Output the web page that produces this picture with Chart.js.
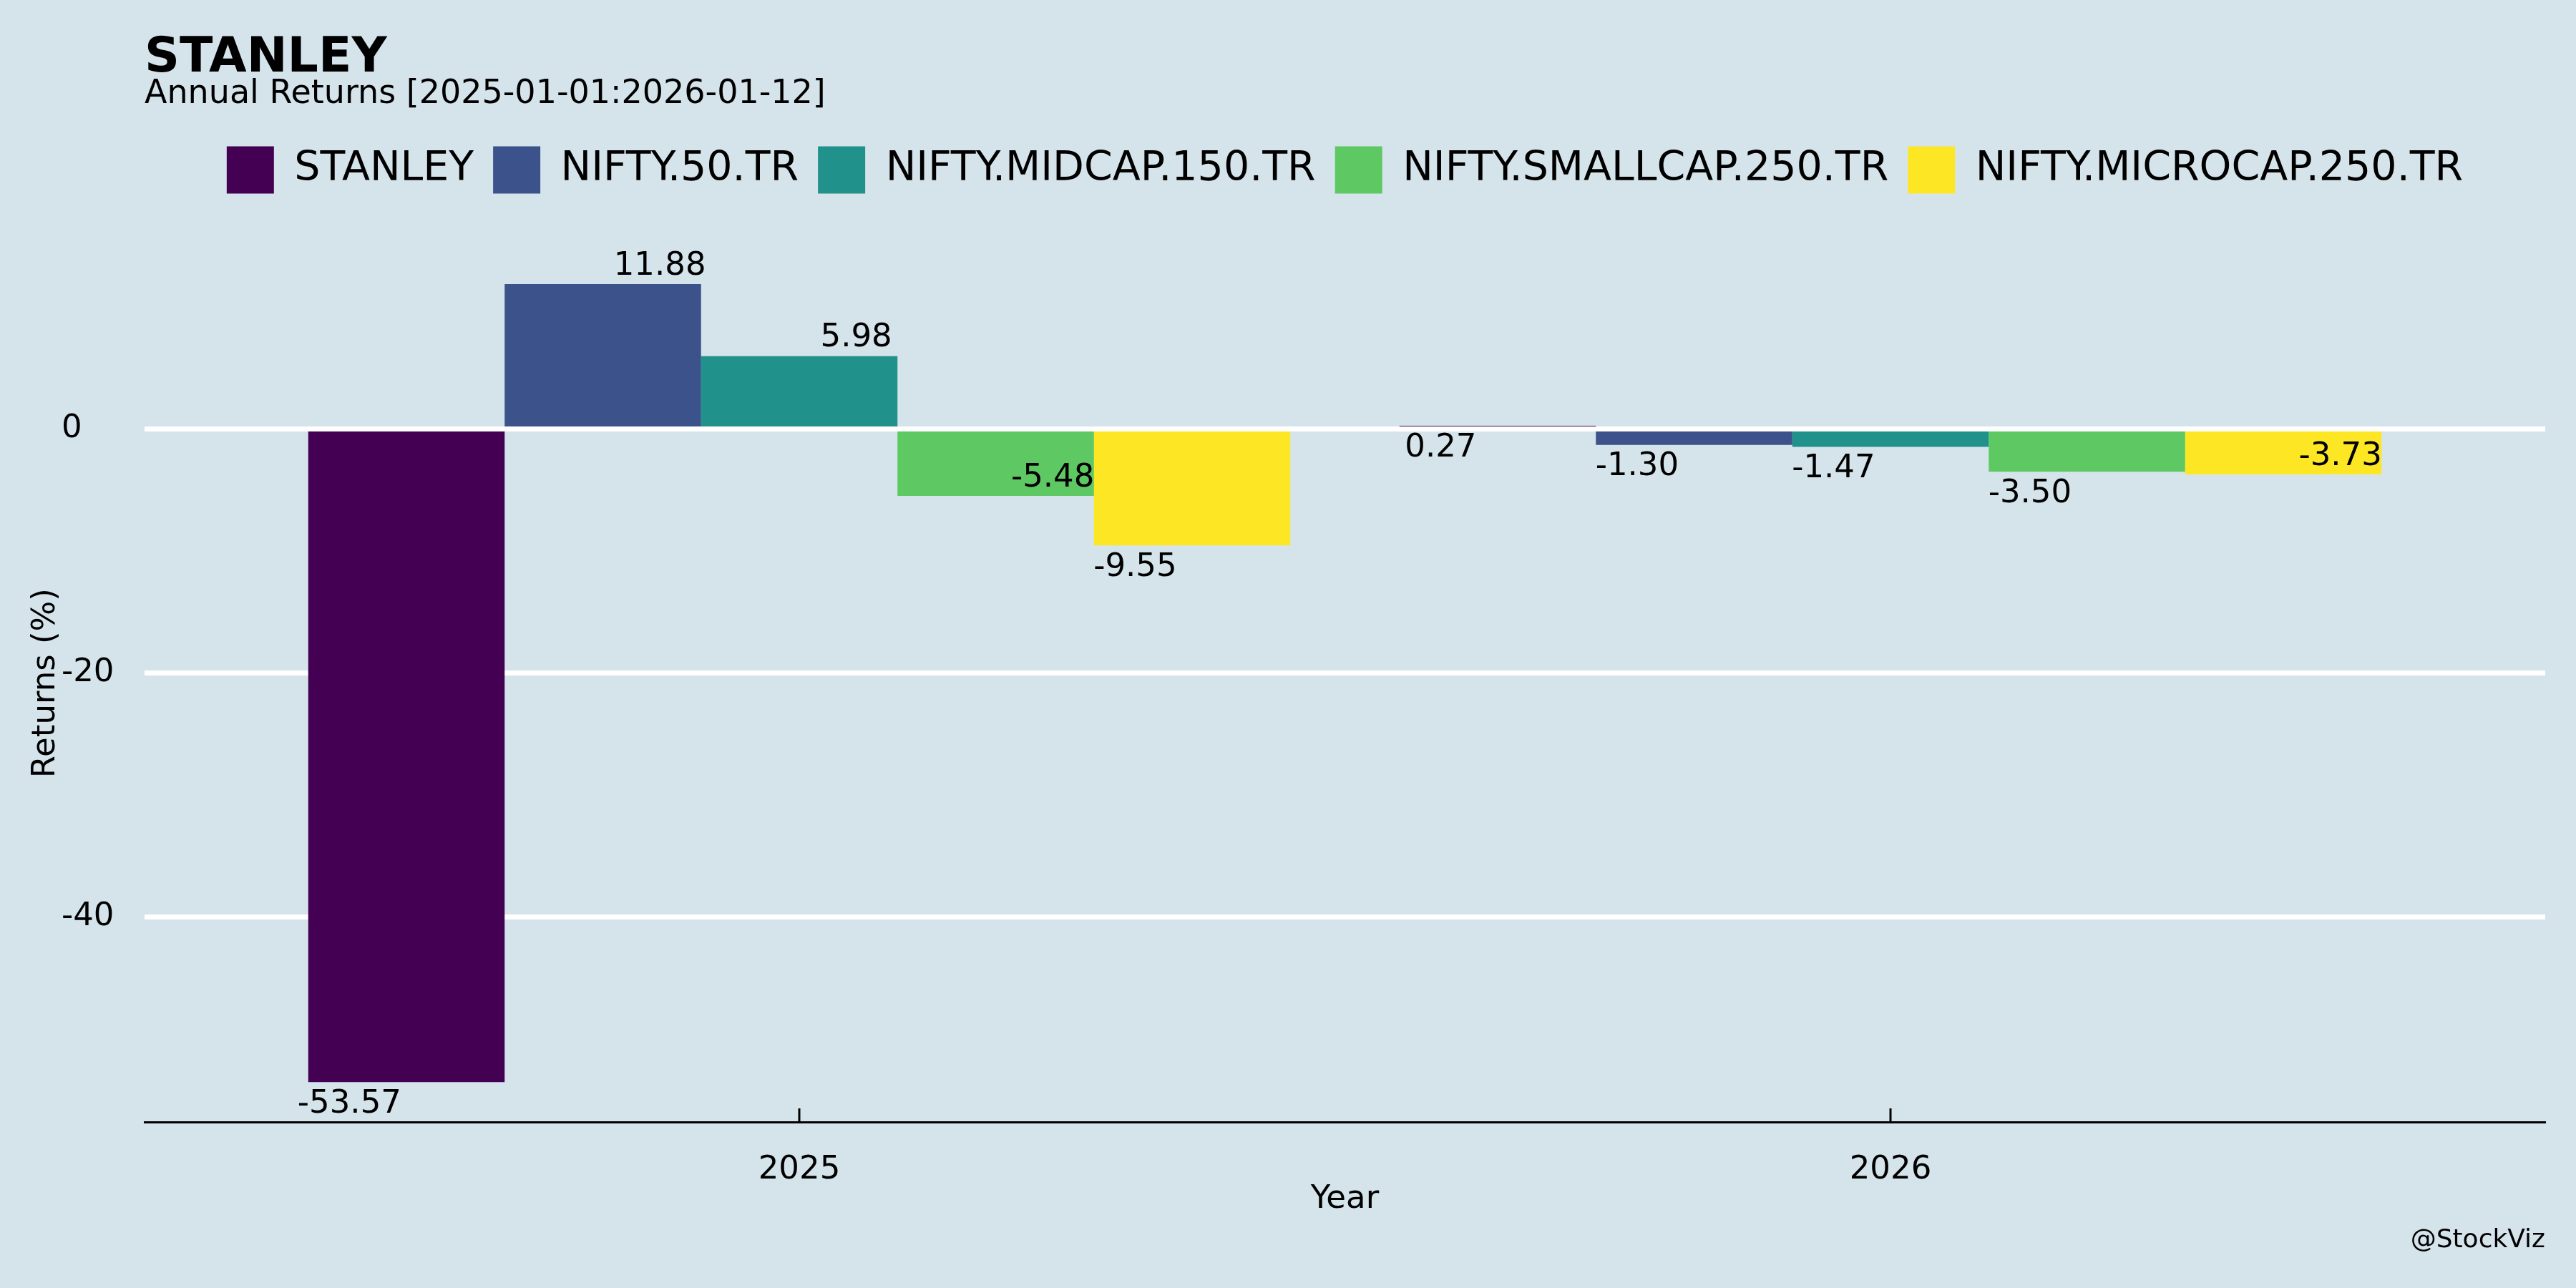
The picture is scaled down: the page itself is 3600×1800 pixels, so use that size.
<!DOCTYPE html>
<html>
<head>
<meta charset="utf-8">
<script src="https://cdn.jsdelivr.net/npm/chart.js@4.4.1/dist/chart.umd.min.js"></script>
<style>
  html, body { margin: 0; padding: 0; background: #d5e4eb; }
  canvas { display: block; }
</style>
</head>
<body>
<canvas id="returnsChart" width="3600" height="1800" style="width:3600px;height:1800px"></canvas>
<script>
var years = ['2025', '2026'];
var seriesNames = ['STANLEY', 'NIFTY.50.TR', 'NIFTY.MIDCAP.150.TR', 'NIFTY.SMALLCAP.250.TR', 'NIFTY.MICROCAP.250.TR'];
var stanley = [-53.57, 0.27];
var nifty50 = [11.88, -1.30];
var midcap150 = [5.98, -1.47];
var smallcap250 = [-5.48, -3.50];
var microcap250 = [-9.55, -3.73];
var yTicks = [0, -20, -40];
var seriesColors = ['#440154', '#3b528b', '#21918c', '#5ec962', '#fde725'];

// where each value label sits next to its bar: [left(-1)/right(1), above(-1)/below(1)]
var labelSides = [
    [[-1, 1], [-1, 1]],
    [[1, -1], [-1, 1]],
    [[1, -1], [-1, 1]],
    [[1, -1], [-1, 1]],
    [[-1, 1], [1, -1]]
];

Chart.defaults.font.family = '"DejaVu Sans"';
Chart.defaults.color = '#000';

var background = {
    id: 'background',
    beforeDraw: function(chart) {
        var ctx = chart.ctx;
        ctx.save();
        ctx.fillStyle = '#d5e4eb';
        ctx.fillRect(0, 0, chart.width, chart.height);
        ctx.restore();
    }
};

// leave a gap between the legend and the plot
var legendGap = {
    id: 'legendGap',
    beforeLayout: function(chart) {
        var legend = chart.legend;
        if (legend && !legend._gapPatched) {
            var fit = legend.fit;
            legend.fit = function() {
                fit.call(this);
                this.height += 61;
            };
            legend._gapPatched = true;
        }
    }
};

var valueLabels = {
    id: 'valueLabels',
    afterDatasetsDraw: function(chart) {
        var ctx = chart.ctx;
        ctx.save();
        ctx.font = '45px "DejaVu Sans"';
        ctx.fillStyle = '#000';
        ctx.textAlign = 'center';
        ctx.textBaseline = 'middle';
        chart.data.datasets.forEach(function(ds, i) {
            chart.getDatasetMeta(i).data.forEach(function(bar, j) {
                var side = labelSides[i][j];
                var x = bar.x + side[0] * bar.width * 0.29;
                var y = bar.y + (side[1] < 0 ? -25 : 31);
                ctx.fillText(ds.data[j].y.toFixed(2), x, y);
            });
        });
        ctx.restore();
    }
};

var xTickMarks = {
    id: 'xTickMarks',
    afterDraw: function(chart) {
        var xs = chart.scales.x;
        var ctx = chart.ctx;
        var bottom = chart.chartArea.bottom;
        ctx.save();
        ctx.strokeStyle = '#000';
        ctx.lineWidth = 3;
        xs.ticks.forEach(function(t) {
            var px = xs.getPixelForValue(t.value);
            ctx.beginPath();
            ctx.moveTo(px, bottom - 19);
            ctx.lineTo(px, bottom);
            ctx.stroke();
        });
        ctx.font = '36px "DejaVu Sans"';
        ctx.fillStyle = '#000';
        ctx.textAlign = 'right';
        ctx.textBaseline = 'alphabetic';
        ctx.fillText('@StockViz', chart.chartArea.right, chart.height - 57);
        ctx.restore();
    }
};

var allSeries = [stanley, nifty50, midcap150, smallcap250, microcap250];

var ctx = document.getElementById('returnsChart').getContext('2d');
var returnsChart = new Chart(ctx, {
    type: 'bar',
    data: {
        datasets: allSeries.map(function(values, i) {
            return {
                label: seriesNames[i],
                data: values.map(function(v, j) { return { x: j, y: v }; }),
                backgroundColor: seriesColors[i],
                borderWidth: 0
            };
        })
    },
    options: {
        responsive: false,
        devicePixelRatio: 1,
        animation: false,
        layout: { padding: { left: 86, right: 43, top: 0, bottom: 0 } },
        datasets: {
            bar: { categoryPercentage: 0.9, barPercentage: 1.0 }
        },
        scales: {
            x: {
                type: 'linear',
                offset: false,
                min: -0.6,
                max: 1.6,
                afterBuildTicks: function(scale) {
                    scale.ticks = years.map(function(y, i) { return { value: i }; });
                },
                afterFit: function(scale) { scale.height = 232; },
                grid: { display: false, drawTicks: false },
                border: { display: true, color: '#000', width: 3 },
                ticks: {
                    padding: 40,
                    font: { size: 45 },
                    color: '#000',
                    callback: function(value) { return years[value]; }
                },
                title: {
                    display: true,
                    text: 'Year',
                    font: { size: 45 },
                    color: '#000',
                    padding: { top: 0, bottom: 97 }
                }
            },
            y: {
                min: -56.84,
                max: 15.15,
                afterBuildTicks: function(scale) {
                    scale.ticks = yTicks.map(function(v) { return { value: v }; });
                },
                afterFit: function(scale) { scale.width = 116; },
                grid: { color: '#ffffff', lineWidth: 7, drawTicks: false },
                border: { display: false },
                ticks: {
                    crossAlign: 'far',
                    padding: 0,
                    font: { size: 45 },
                    color: '#000'
                },
                title: {
                    display: true,
                    text: 'Returns (%)',
                    font: { size: 45 },
                    color: '#000',
                    padding: { top: -49, bottom: 0 }
                }
            }
        },
        plugins: {
            title: {
                display: true,
                text: 'STANLEY',
                align: 'start',
                fullSize: false,
                color: '#000',
                font: { size: 68, weight: 'bold', lineHeight: 0.8 },
                padding: { top: 55, bottom: 0 }
            },
            subtitle: {
                display: true,
                text: 'Annual Returns [2025-01-01:2026-01-12]',
                align: 'start',
                fullSize: false,
                color: '#000',
                font: { size: 46, lineHeight: 1 },
                padding: { top: 0, bottom: 22 }
            },
            legend: {
                position: 'top',
                fullSize: false,
                labels: {
                    boxWidth: 66,
                    boxHeight: 66,
                    padding: 27,
                    font: { size: 57 },
                    color: '#000'
                }
            },
            tooltip: { enabled: false }
        }
    },
    plugins: [background, legendGap, valueLabels, xTickMarks]
});
</script>
</body>
</html>
